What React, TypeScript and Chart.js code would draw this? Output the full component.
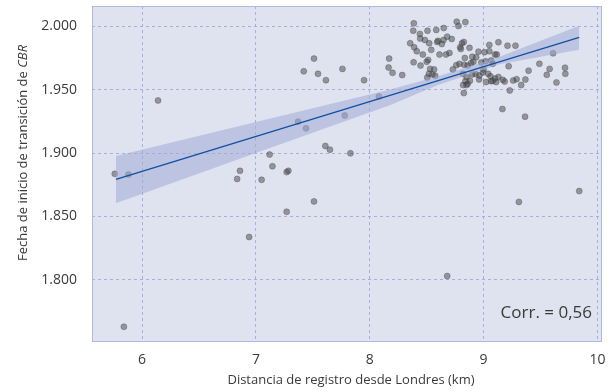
import React, { useEffect, useRef } from "react";
import { Chart, registerables } from "chart.js";

Chart.register(...registerables);

const pointX = [
  5.76, 5.88, 5.84, 6.14, 6.86, 6.835, 6.94, 7.05, 7.12, 7.145, 7.27, 7.285, 7.27, 7.37, 7.44, 7.51, 7.61, 7.65, 7.78, 7.83,
  8.08, 7.51, 7.42, 7.545, 7.615, 7.76, 7.95, 8.17, 8.165, 8.2, 8.285, 8.68, 9.31, 9.84, 9.165, 9.364,
  8.387, 8.382, 8.443, 8.484, 8.507, 8.584, 8.65, 8.764, 8.779, 8.84, 8.68, 8.648, 8.592, 8.633, 8.522, 8.355, 8.39, 8.413,
  8.466, 8.54, 8.613, 8.67, 8.7, 8.513, 8.5, 8.385, 8.446, 8.53, 8.565, 8.52, 8.55, 8.575, 8.505, 8.76, 8.81, 8.826, 8.794,
  8.8, 8.876, 8.955, 8.9, 8.935, 8.835, 8.788, 8.83, 8.86, 8.89, 8.91, 8.98, 9.016, 9.008, 9.05, 9.05, 9.1, 9.13, 8.818,
  8.85, 8.88, 8.86, 8.84, 8.826, 9.022, 9.066, 9.11, 8.963, 8.993, 8.93, 8.9, 9.21, 9.28, 9.61, 9.49, 9.395, 9.58, 9.555,
  9.64, 9.715, 9.718, 9.367, 9.33, 9.29, 9.26, 9.23, 9.22, 9.185, 9.168, 9.1, 9.06, 9.13, 9.08, 8.82, 8.85, 9.116, 9.08,
  9.066, 8.44, 8.6, 8.72, 8.73, 9.0, 9.04, 8.96,
];
const pointY = [
  1883.6, 1883.1, 1763, 1941.5, 1886, 1879.6, 1833.8, 1878.9, 1898.8, 1889.6, 1885, 1886, 1853.7, 1924.8, 1919.5, 1861.9,
  1905.6, 1902.7, 1929.7, 1899.8, 1944.7, 1974.5, 1964.5, 1962.5, 1957.5, 1966.4, 1957.5, 1974.5, 1967.5, 1963.3, 1961.5,
  1803, 1861.5, 1870, 1934.7, 1928.7,
  2002.3, 1996.5, 1990.3, 1989.2, 1996.5, 1997.1, 1998.6, 2003.6, 2000.2, 2003.3, 1991.8, 1989.2, 1987.6, 1986, 1986.6,
  1986.6, 1983.4, 1980.3, 1977.7, 1981.4, 1977.7, 1977.7, 1979, 1973.5, 1972, 1971.6, 1969, 1966.4, 1966, 1962.5, 1962,
  1961, 1959.6, 1969.3, 1986.6, 1987.6, 1983.4, 1982, 1983, 1980, 1976, 1975.6, 1975, 1970.4, 1969.6, 1969, 1971, 1972,
  1971.4, 1972.4, 1979.5, 1985.3, 1980.3, 1977.7, 1987.4, 1962.5, 1960, 1957, 1954.7, 1956.7, 1947.3, 1956, 1956.7, 1956,
  1961.2, 1963.5, 1962.3, 1962, 1984.7, 1984.7, 1978.7, 1970.4, 1965, 1966.4, 1961.7, 1955.7, 1967.3, 1962.5, 1958, 1953.6,
  1958.3, 1957.2, 1949.4, 1968.5, 1956.4, 1957.8, 1958.8, 1960.5, 1960, 1957, 1953.6, 1953.6, 1977.7, 1970.4, 1973, 1994,
  1988.5, 1990, 1966, 1966, 1962.5, 1958,
];

const fitX = [5.77, 9.84];
const fitY = [1879.2, 1991.3];

const bandX = [5.77, 7.0, 8.17, 8.6, 9.14, 9.84];
const bandUpper = [1897.7, 1924.5, 1950, 1960.6, 1976, 2000.5];
const bandLower = [1860.5, 1900, 1937.6, 1953.6, 1970, 1981.5];

const xTicks = [6, 7, 8, 9, 10];
const xTickLabels = ["6", "7", "8", "9", "10"];
const yTicks = [1800, 1850, 1900, 1950, 2000];
const yTickLabels = ["1.800", "1.850", "1.900", "1.950", "2.000"];

const xTitle = "Distancia de registro desde Londres (km)";
const yTitleMain = "Fecha de inicio de transición de ";
const yTitleItalic = "CBR";
const corrText = "Corr. = 0,56";

const FONT = "'Open Sans', 'Noto Sans', sans-serif";
const TEXT = "#3a3a3a";

export default function App() {
  const ref = useRef<HTMLCanvasElement | null>(null);

  useEffect(() => {
    document.body.style.margin = "0";
    const canvas = ref.current!;
    const decor = {
      id: "decor",
      beforeDraw(chart: any) {
        const { ctx, chartArea: a } = chart;
        ctx.save();
        ctx.fillStyle = "rgb(223,227,239)";
        ctx.fillRect(a.left, a.top, a.right - a.left, a.bottom - a.top);
        ctx.restore();
      },
      afterDraw(chart: any) {
        const { ctx, chartArea: a } = chart;
        ctx.save();
        ctx.strokeStyle = "rgb(176,184,222)";
        ctx.lineWidth = 1;
        ctx.strokeRect(a.left + 0.5, a.top + 0.5, a.right - a.left - 1, a.bottom - a.top - 1);
        ctx.fillStyle = TEXT;
        ctx.font = `13px ${FONT}`;
        ctx.textAlign = "center";
        ctx.textBaseline = "middle";
        ctx.fillText(xTitle, (a.left + a.right) / 2 + 4, 380);
        ctx.save();
        ctx.translate(23, 153);
        ctx.rotate(-Math.PI / 2);
        ctx.font = `13px ${FONT}`;
        const w1 = ctx.measureText(yTitleMain).width;
        ctx.font = `italic 13px ${FONT}`;
        const w2 = ctx.measureText(yTitleItalic).width;
        const start = -(w1 + w2) / 2;
        ctx.textAlign = "left";
        ctx.font = `13px ${FONT}`;
        ctx.fillText(yTitleMain, start, 0);
        ctx.font = `italic 13px ${FONT}`;
        ctx.fillText(yTitleItalic, start + w1, 0);
        ctx.restore();
        ctx.font = `17px ${FONT}`;
        ctx.textAlign = "right";
        ctx.textBaseline = "middle";
        ctx.fillText(corrText, a.right - 10, 313);
        ctx.restore();
      },
    };

    const chart = new Chart(canvas, {
      type: "scatter",
      data: {
        datasets: [
          {
            type: "scatter",
            data: pointX.map((x, i) => ({ x, y: pointY[i] })),
            backgroundColor: "rgba(70,70,70,0.5)",
            borderColor: "rgba(70,70,70,0.35)",
            borderWidth: 1,
            pointRadius: 3,
            order: 4,
          },
          {
            type: "line",
            data: bandX.map((x, i) => ({ x, y: bandLower[i] })),
            borderWidth: 0,
            borderColor: "rgba(0,0,0,0)",
            pointRadius: 0,
            fill: false,
            order: 3,
          },
          {
            type: "line",
            data: bandX.map((x, i) => ({ x, y: bandUpper[i] })),
            borderWidth: 0,
            borderColor: "rgba(0,0,0,0)",
            backgroundColor: "rgba(160,172,215,0.55)",
            pointRadius: 0,
            fill: "-1",
            order: 2,
          },
          {
            type: "line",
            data: fitX.map((x, i) => ({ x, y: fitY[i] })),
            borderColor: "rgb(16,80,160)",
            borderWidth: 1.3,
            pointRadius: 0,
            fill: false,
            order: 1,
          },
        ],
      },
      options: {
        responsive: false,
        animation: false,
        layout: { padding: { top: 6, right: 9, left: 0, bottom: 0 } },
        plugins: { legend: { display: false }, tooltip: { enabled: false } },
        scales: {
          x: {
            type: "linear",
            min: 5.56,
            max: 10.04,
            afterBuildTicks: (s: any) => {
              s.ticks = xTicks.map((v) => ({ value: v }));
            },
            afterFit: (s: any) => {
              s.height = 49;
              s.paddingLeft = 0;
              s.paddingRight = 0;
            },
            ticks: {
              padding: 10,
              color: TEXT,
              font: { family: FONT, size: 14 },
              callback: (v: any) => {
                const i = xTicks.indexOf(Number(v));
                return i >= 0 ? xTickLabels[i] : "";
              },
            },
            grid: { color: "rgba(160,170,220,0.9)", drawTicks: false, lineWidth: 1 },
            border: { display: false, dash: [3, 3] },
          },
          y: {
            type: "linear",
            min: 1751,
            max: 2016,
            afterBuildTicks: (s: any) => {
              s.ticks = yTicks.map((v) => ({ value: v }));
            },
            afterFit: (s: any) => {
              s.width = 92;
              s.paddingTop = 0;
              s.paddingBottom = 0;
            },
            ticks: {
              padding: 15,
              color: TEXT,
              font: { family: FONT, size: 14 },
              callback: (v: any) => {
                const i = yTicks.indexOf(Number(v));
                return i >= 0 ? yTickLabels[i] : "";
              },
            },
            grid: { color: "rgba(160,170,220,0.9)", drawTicks: false, lineWidth: 1 },
            border: { display: false, dash: [3, 3] },
          },
        },
      },
      plugins: [decor],
    } as any);
    return () => chart.destroy();
  }, []);

  return <canvas ref={ref} width={611} height={391} style={{ display: "block" }} />;
}
